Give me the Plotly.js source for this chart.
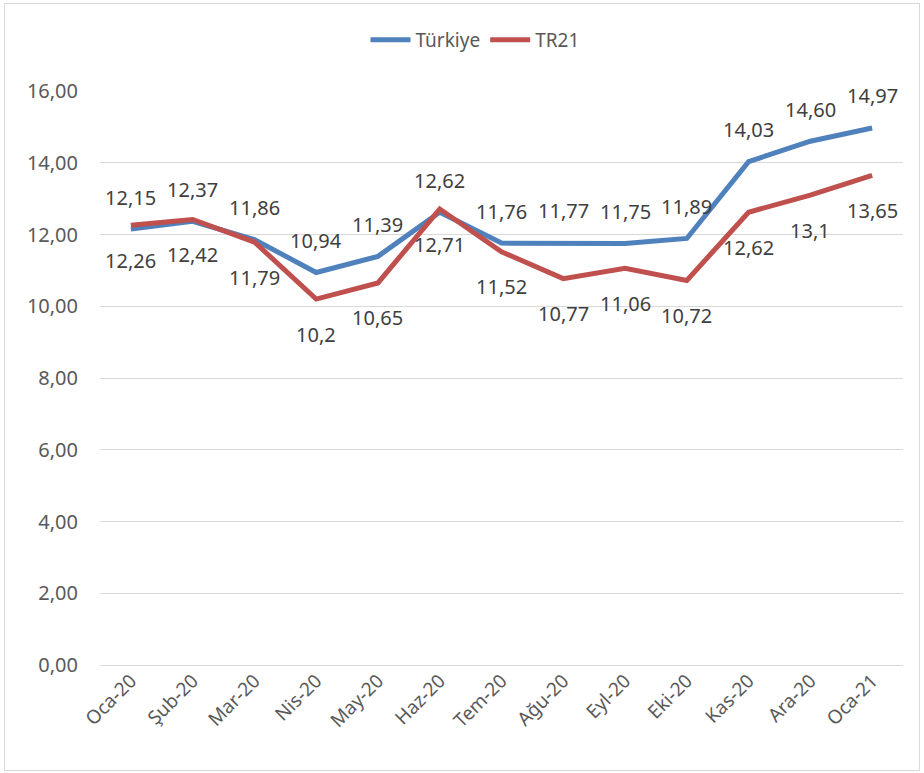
<!DOCTYPE html>
<html>
<head>
<meta charset="utf-8">
<script src="https://cdn.plot.ly/plotly-3.0.1.min.js"></script>
<style>
  html, body { margin: 0; padding: 0; background: #fff; }
  #wrap { position: relative; width: 924px; height: 773px; }
  #chart { width: 924px; height: 773px; }
  #frame { position: absolute; left: 4px; top: 3px; width: 914px; height: 766px; border: 1px solid #d9d9d9; pointer-events: none; }
</style>
</head>
<body>
<div id="wrap"><div id="chart"></div><div id="frame"></div></div>
<script>
const categories = ["Oca-20","Şub-20","Mar-20","Nis-20","May-20","Haz-20","Tem-20","Ağu-20","Eyl-20","Eki-20","Kas-20","Ara-20","Oca-21"];
const turkiye = [12.15, 12.37, 11.86, 10.94, 11.39, 12.62, 11.76, 11.77, 11.75, 11.89, 14.03, 14.60, 14.97];
const tr21 = [12.26, 12.42, 11.79, 10.2, 10.65, 12.71, 11.52, 10.77, 11.06, 10.72, 12.62, 13.1, 13.65];
const yTicks = [0, 2, 4, 6, 8, 10, 12, 14, 16];
const yTickLabels = ["0,00","2,00","4,00","6,00","8,00","10,00","12,00","14,00","16,00"];

const turLabels = turkiye.map(v => v.toFixed(2).replace('.', ','));
const trLabels = tr21.map(v => String(v).replace('.', ','));

const FONT = "Noto Sans, Open Sans, sans-serif";
const TXT = "#404040";
const TICK = "#595959";

const traces = [
  { x: categories, y: turkiye, name: "Türkiye", type: "scatter", mode: "lines",
    line: { color: "#4F81BD", width: 5 } },
  { x: categories, y: tr21, name: "TR21", type: "scatter", mode: "lines",
    line: { color: "#C0504D", width: 5 } }
];

const annotations = [];
categories.forEach((c, i) => {
  annotations.push({ x: c, y: turkiye[i], text: turLabels[i], showarrow: false,
    yshift: 32, xanchor: "center", yanchor: "middle",
    font: { family: FONT, size: 20, color: TXT } });
  annotations.push({ x: c, y: tr21[i], text: trLabels[i], showarrow: false,
    yshift: -35, xanchor: "center", yanchor: "middle",
    font: { family: FONT, size: 20, color: TXT } });
});

const layout = {
  width: 924, height: 773,
  margin: { l: 100, r: 21, t: 91, b: 108 },
  paper_bgcolor: "#ffffff", plot_bgcolor: "#ffffff",
  font: { family: FONT, color: TXT },
  showlegend: true,
  legend: { orientation: "h", x: 0.467, xanchor: "center", y: 1.089, yanchor: "middle",
    font: { family: FONT, size: 19, color: TICK }, itemwidth: 40, tracegroupgap: 0 },
  xaxis: { type: "category", showgrid: false, zeroline: false, showline: false,
    tickangle: -45, ticks: "", tickfont: { family: FONT, size: 19, color: TICK },
    range: [-0.5, 12.5], fixedrange: true },
  yaxis: { range: [0, 16], tickvals: yTicks, ticktext: yTickLabels,
    showgrid: true, gridcolor: "#d9d9d9", gridwidth: 1, zeroline: true, zerolinecolor: "#d9d9d9",
    showline: false, ticks: "", ticklabelstandoff: 21,
    tickfont: { family: FONT, size: 20, color: TICK }, fixedrange: true },
  annotations: annotations
};

Plotly.newPlot("chart", traces, layout, { displayModeBar: false, staticPlot: true });
</script>
</body>
</html>
